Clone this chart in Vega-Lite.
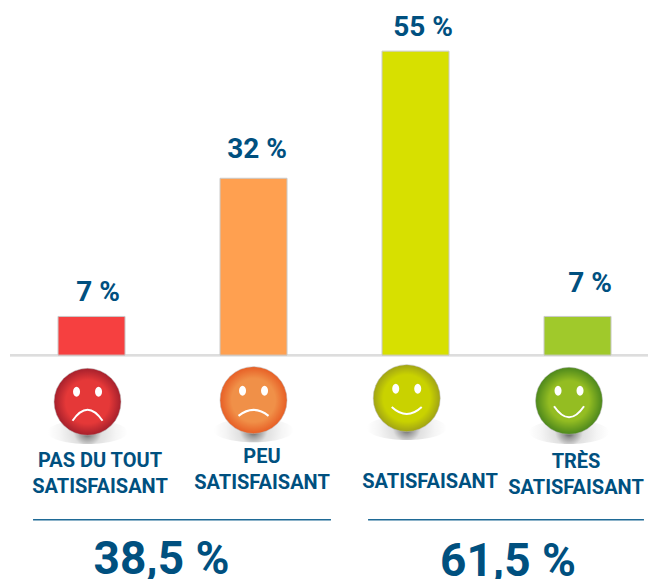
{"$schema":"https://vega.github.io/schema/vega-lite/v6.json","width":648,"height":579,"padding":0,"autosize":"none","background":"white","view":{"stroke":null},"config":{"text":{"font":"Roboto","fontWeight":"bold","color":"#00507f"}},
"datasets":{"cats":[{"rang":1,"valeur":7,"etiquette":"7 %","libelle":"PAS DU TOUT\nSATISFAISANT","total":"38,5 %"},{"rang":2,"valeur":32,"etiquette":"32 %","libelle":"PEU\nSATISFAISANT"},{"rang":3,"valeur":55,"etiquette":"55 %","libelle":"SATISFAISANT"},{"rang":4,"valeur":7,"etiquette":"7 %","libelle":"TRÈS\nSATISFAISANT","total":"61,5 %"}]},
"data":{"name":"cats"},
"encoding":{"x":{"field":"rang","type":"quantitative","axis":null,"scale":{"domain":[0.435,4.435],"nice":false,"zero":false,"padding":0}}},
"layer":[
{"mark":{"type":"rule","color":"#dddddd","strokeWidth":2},"encoding":{"x":{"datum":0.497,"type":"quantitative"},"x2":{"datum":4.435},"y":{"datum":0,"type":"quantitative","axis":null,"scale":{"domain":[-40.5,64.25],"nice":false,"zero":false}}}},
{"mark":{"type":"bar","size":67,"stroke":"#c9c9c9","strokeWidth":1},"encoding":{"y":{"field":"valeur","type":"quantitative","axis":null},"y2":{"datum":0},"fill":{"field":"rang","type":"nominal","legend":null,"scale":{"domain":[1,2,3,4],"range":["#f64040","#ffa050","#d7e000","#a0c92b"]}}}},
{"transform":[{"filter":"datum.rang==1"}],"layer":[
{"mark":{"type":"text","fontSize":28,"dx":6.5,"dy":-23},"encoding":{"y":{"field":"valeur","type":"quantitative"},"text":{"field":"etiquette"}}},
{"mark":{"type":"point","filled":true,"size":6400,"xOffset":-4,"shape":"M-1,0A1,0.3 0 1 1 1,0A1,0.3 0 1 1 -1,0Z","opacity":1,"fill":{"gradient":"radial","x1":0.5,"y1":0.5,"x2":0.5,"y2":0.5,"r1":0,"r2":0.5,"stops":[{"offset":0,"color":"#444444"},{"offset":0.15,"color":"#999999"},{"offset":0.35,"color":"#e0e0e0"},{"offset":0.7,"color":"#f5f5f5"},{"offset":1,"color":"#ffffff"}]}},"encoding":{"y":{"datum":-13.9,"type":"quantitative"}}},
{"mark":{"type":"point","filled":true,"size":4489,"shape":"circle","xOffset":-4,"opacity":1,"stroke":"#bbbbbb","strokeWidth":0.5,"fill":{"gradient":"radial","x1":0.5,"y1":0.5,"x2":0.5,"y2":0.5,"r1":0,"r2":0.5,"stops":[{"offset":0,"color":"#e53838"},{"offset":0.65,"color":"#e53838"},{"offset":1,"color":"#a5202c"}]}},"encoding":{"y":{"datum":-8.45,"type":"quantitative"}}},
{"mark":{"type":"point","filled":true,"size":100,"color":"white","opacity":1,"xOffset":-15,"shape":"M-0.7,0A0.7,1 0 1 1 0.7,0A0.7,1 0 1 1 -0.7,0Z"},"encoding":{"y":{"datum":-6.64,"type":"quantitative"}}},
{"mark":{"type":"point","filled":true,"size":100,"color":"white","opacity":1,"xOffset":7,"shape":"M-0.7,0A0.7,1 0 1 1 0.7,0A0.7,1 0 1 1 -0.7,0Z"},"encoding":{"y":{"datum":-6.64,"type":"quantitative"}}},
{"mark":{"type":"point","filled":false,"size":900,"stroke":"white","strokeWidth":2,"opacity":1,"xOffset":-4,"shape":"M-1,0.37Q0,-1.1 1,0.37"},"encoding":{"y":{"datum":-10.86,"type":"quantitative"}}},
{"mark":{"type":"text","fontSize":20,"lineBreak":"\n","lineHeight":26,"baseline":"middle","dx":8.5},"encoding":{"y":{"datum":-19.2,"type":"quantitative"},"text":{"field":"libelle"}}},
{"mark":{"type":"rule","color":"#1f6a96","strokeWidth":1.5},"encoding":{"x":{"datum":0.639,"type":"quantitative"},"x2":{"datum":2.478},"y":{"datum":-29.8,"type":"quantitative"}}},
{"mark":{"type":"text","fontSize":46},"encoding":{"x":{"datum":1.432,"type":"quantitative"},"y":{"datum":-37.1,"type":"quantitative"},"text":{"field":"total"}}}
]},
{"transform":[{"filter":"datum.rang==2"}],"layer":[
{"mark":{"type":"text","fontSize":28,"dx":3.5,"dy":-28},"encoding":{"y":{"field":"valeur","type":"quantitative"},"text":{"field":"etiquette"}}},
{"mark":{"type":"point","filled":true,"size":6400,"opacity":1,"shape":"M-1,0A1,0.3 0 1 1 1,0A1,0.3 0 1 1 -1,0Z","fill":{"gradient":"radial","x1":0.5,"y1":0.5,"x2":0.5,"y2":0.5,"r1":0,"r2":0.5,"stops":[{"offset":0,"color":"#444444"},{"offset":0.15,"color":"#999999"},{"offset":0.35,"color":"#e0e0e0"},{"offset":0.7,"color":"#f5f5f5"},{"offset":1,"color":"#ffffff"}]}},"encoding":{"y":{"datum":-13.6,"type":"quantitative"}}},
{"mark":{"type":"point","filled":true,"size":4489,"shape":"circle","opacity":1,"stroke":"#bbbbbb","strokeWidth":0.5,"fill":{"gradient":"radial","x1":0.5,"y1":0.5,"x2":0.5,"y2":0.5,"r1":0,"r2":0.5,"stops":[{"offset":0,"color":"#f09048"},{"offset":0.65,"color":"#f09048"},{"offset":1,"color":"#e75e25"}]}},"encoding":{"y":{"datum":-8.14,"type":"quantitative"}}},
{"mark":{"type":"point","filled":true,"size":100,"color":"white","opacity":1,"xOffset":-11,"shape":"M-0.7,0A0.7,1 0 1 1 0.7,0A0.7,1 0 1 1 -0.7,0Z"},"encoding":{"y":{"datum":-6.46,"type":"quantitative"}}},
{"mark":{"type":"point","filled":true,"size":100,"color":"white","opacity":1,"xOffset":11,"shape":"M-0.7,0A0.7,1 0 1 1 0.7,0A0.7,1 0 1 1 -0.7,0Z"},"encoding":{"y":{"datum":-6.46,"type":"quantitative"}}},
{"mark":{"type":"point","filled":false,"size":900,"stroke":"white","strokeWidth":2,"opacity":1,"shape":"M-1,0.2Q0,-0.6 1,0.2"},"encoding":{"y":{"datum":-10.44,"type":"quantitative"}}},
{"mark":{"type":"text","fontSize":20,"lineBreak":"\n","lineHeight":26,"baseline":"middle","dx":8.5},"encoding":{"y":{"datum":-18.5,"type":"quantitative"},"text":{"field":"libelle"}}}
]},
{"transform":[{"filter":"datum.rang==3"}],"layer":[
{"mark":{"type":"text","fontSize":28,"dx":7.5,"dy":-23},"encoding":{"y":{"field":"valeur","type":"quantitative"},"text":{"field":"etiquette"}}},
{"mark":{"type":"point","filled":true,"size":6400,"opacity":1,"xOffset":-8.8,"shape":"M-1,0A1,0.3 0 1 1 1,0A1,0.3 0 1 1 -1,0Z","fill":{"gradient":"radial","x1":0.5,"y1":0.5,"x2":0.5,"y2":0.5,"r1":0,"r2":0.5,"stops":[{"offset":0,"color":"#444444"},{"offset":0.15,"color":"#999999"},{"offset":0.35,"color":"#e0e0e0"},{"offset":0.7,"color":"#f5f5f5"},{"offset":1,"color":"#ffffff"}]}},"encoding":{"y":{"datum":-13.2,"type":"quantitative"}}},
{"mark":{"type":"point","filled":true,"size":4489,"shape":"circle","xOffset":-8.8,"opacity":1,"stroke":"#bbbbbb","strokeWidth":0.5,"fill":{"gradient":"radial","x1":0.5,"y1":0.5,"x2":0.5,"y2":0.5,"r1":0,"r2":0.5,"stops":[{"offset":0,"color":"#c9d200"},{"offset":0.7,"color":"#c9d200"},{"offset":1,"color":"#a0a315"}]}},"encoding":{"y":{"datum":-7.78,"type":"quantitative"}}},
{"mark":{"type":"point","filled":true,"size":100,"color":"white","opacity":1,"xOffset":-19.8,"shape":"M-0.7,0A0.7,1 0 1 1 0.7,0A0.7,1 0 1 1 -0.7,0Z"},"encoding":{"y":{"datum":-6.1,"type":"quantitative"}}},
{"mark":{"type":"point","filled":true,"size":100,"color":"white","opacity":1,"xOffset":2.2,"shape":"M-0.7,0A0.7,1 0 1 1 0.7,0A0.7,1 0 1 1 -0.7,0Z"},"encoding":{"y":{"datum":-6.1,"type":"quantitative"}}},
{"mark":{"type":"point","filled":false,"size":900,"stroke":"white","strokeWidth":2,"opacity":1,"xOffset":-8.8,"shape":"M-1,-0.23Q0,0.7 1,-0.23"},"encoding":{"y":{"datum":-10,"type":"quantitative"}}},
{"mark":{"type":"text","fontSize":20,"lineBreak":"\n","lineHeight":26,"baseline":"middle","dx":14.5},"encoding":{"y":{"datum":-22.9,"type":"quantitative"},"text":{"field":"libelle"}}}
]},
{"transform":[{"filter":"datum.rang==4"}],"layer":[
{"mark":{"type":"text","fontSize":28,"dx":12.5,"dy":-32},"encoding":{"y":{"field":"valeur","type":"quantitative"},"text":{"field":"etiquette"}}},
{"mark":{"type":"point","filled":true,"size":6400,"opacity":1,"xOffset":-8.5,"shape":"M-1,0A1,0.3 0 1 1 1,0A1,0.3 0 1 1 -1,0Z","fill":{"gradient":"radial","x1":0.5,"y1":0.5,"x2":0.5,"y2":0.5,"r1":0,"r2":0.5,"stops":[{"offset":0,"color":"#444444"},{"offset":0.15,"color":"#999999"},{"offset":0.35,"color":"#e0e0e0"},{"offset":0.7,"color":"#f5f5f5"},{"offset":1,"color":"#ffffff"}]}},"encoding":{"y":{"datum":-13.9,"type":"quantitative"}}},
{"mark":{"type":"point","filled":true,"size":4489,"shape":"circle","xOffset":-8.5,"opacity":1,"stroke":"#bbbbbb","strokeWidth":0.5,"fill":{"gradient":"radial","x1":0.5,"y1":0.5,"x2":0.5,"y2":0.5,"r1":0,"r2":0.5,"stops":[{"offset":0,"color":"#94bd22"},{"offset":0.6,"color":"#94bd22"},{"offset":1,"color":"#4c871c"}]}},"encoding":{"y":{"datum":-8.27,"type":"quantitative"}}},
{"mark":{"type":"point","filled":true,"size":100,"color":"white","opacity":1,"xOffset":-19.5,"shape":"M-0.7,0A0.7,1 0 1 1 0.7,0A0.7,1 0 1 1 -0.7,0Z"},"encoding":{"y":{"datum":-6.46,"type":"quantitative"}}},
{"mark":{"type":"point","filled":true,"size":100,"color":"white","opacity":1,"xOffset":2.5,"shape":"M-0.7,0A0.7,1 0 1 1 0.7,0A0.7,1 0 1 1 -0.7,0Z"},"encoding":{"y":{"datum":-6.46,"type":"quantitative"}}},
{"mark":{"type":"point","filled":false,"size":900,"stroke":"white","strokeWidth":2,"opacity":1,"xOffset":-8.5,"shape":"M-1,-0.37Q0,1.1 1,-0.37"},"encoding":{"y":{"datum":-10.26,"type":"quantitative"}}},
{"mark":{"type":"text","fontSize":20,"lineBreak":"\n","lineHeight":26,"baseline":"middle","dx":-1.5},"encoding":{"y":{"datum":-19.35,"type":"quantitative"},"text":{"field":"libelle"}}},
{"mark":{"type":"rule","color":"#1f6a96","strokeWidth":1.5},"encoding":{"x":{"datum":2.707,"type":"quantitative"},"x2":{"datum":4.41},"y":{"datum":-29.8,"type":"quantitative"}}},
{"mark":{"type":"text","fontSize":46},"encoding":{"x":{"datum":3.571,"type":"quantitative"},"y":{"datum":-37.5,"type":"quantitative"},"text":{"field":"total"}}}
]}
]}
